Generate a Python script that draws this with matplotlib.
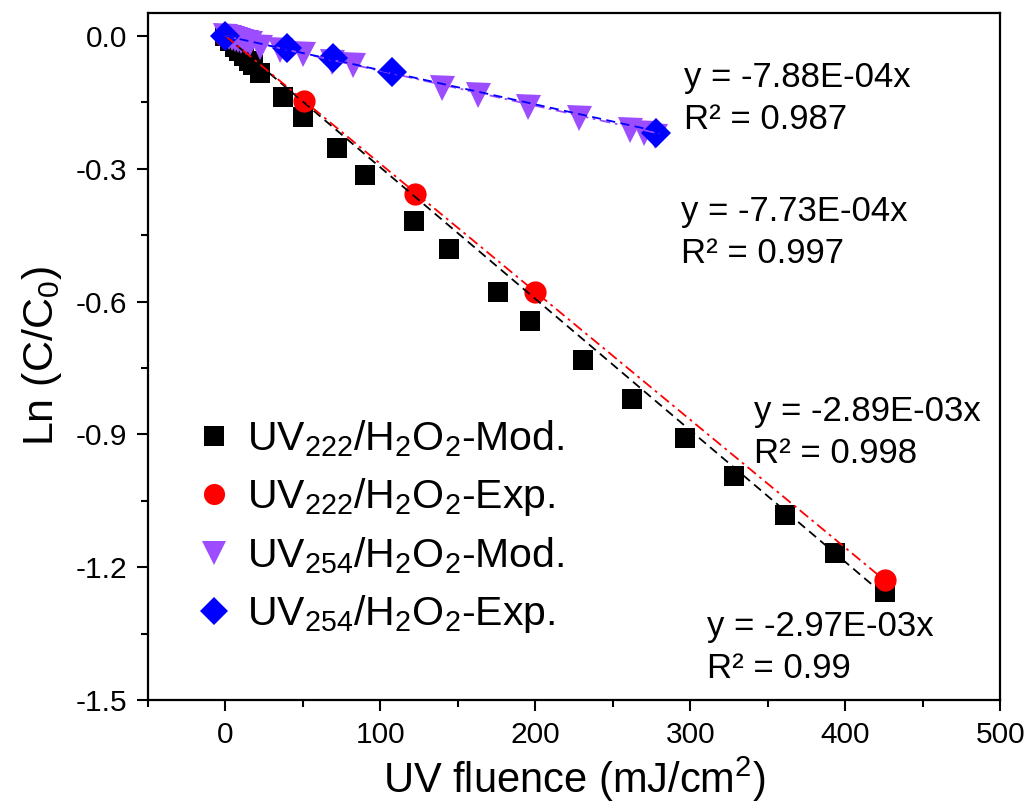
import matplotlib.pyplot as plt
import numpy as np
from matplotlib.ticker import MultipleLocator

plt.rcParams['font.family'] = ['Liberation Sans', 'DejaVu Sans']
plt.rcParams['mathtext.fontset'] = 'custom'
plt.rcParams['mathtext.rm'] = 'Liberation Sans'
plt.rcParams['mathtext.it'] = 'Liberation Sans'
plt.rcParams['mathtext.default'] = 'regular'

# UV222 / H2O2 model
x_222_mod = [0, 3, 6, 9, 12, 15, 18, 22.6, 37.4, 50.3, 72.3, 90.3, 121.9, 144.5, 176.1,
             196.8, 231, 262.6, 296.8, 328.4, 361.3, 393.5, 425.8]
y_222_mod = [0, -0.012, -0.024, -0.035, -0.046, -0.056, -0.066, -0.084, -0.138, -0.183,
             -0.253, -0.314, -0.418, -0.481, -0.578, -0.644, -0.732, -0.820, -0.908,
             -0.994, -1.082, -1.168, -1.256]

# UV222 / H2O2 experiment
x_222_exp = [0, 50.6, 122.6, 200.0, 426.0]
y_222_exp = [0, -0.147, -0.357, -0.578, -1.228]

# UV254 / H2O2 model
x_254_mod = [0, 2, 4, 6, 8, 10, 13, 16, 22, 35, 50, 69, 82, 140, 163, 195, 228, 261, 270, 277]
y_254_mod = [0, -0.003, -0.005, -0.007, -0.009, -0.011, -0.014, -0.017, -0.025, -0.032,
             -0.040, -0.059, -0.066, -0.118, -0.133, -0.160, -0.185, -0.212, -0.220, -0.226]

# UV254 / H2O2 experiment
x_254_exp = [0, 39.6, 69.4, 107.7, 278.0]
y_254_exp = [0, -0.027, -0.050, -0.081, -0.219]

# Linear fits through the origin
slopes = [-2.97e-3, -2.89e-3, -7.88e-4, -7.73e-4]
r2 = ['0.99', '0.998', '0.987', '0.997']
fit_xmax = [428, 428, 280, 280]

labels = [r'UV$_{222}$/H$_2$O$_2$-Mod.', r'UV$_{222}$/H$_2$O$_2$-Exp.',
          r'UV$_{254}$/H$_2$O$_2$-Mod.', r'UV$_{254}$/H$_2$O$_2$-Exp.']

colors = ['black', '#FF0000', '#9C4DFF', '#0000FF']
markers = ['s', 'o', 'v', 'D']
msizes = [15, 16, 18, 15]
fit_styles = [(0, (5, 3)), (0, (6, 2.5, 1.5, 2.5)), (0, (6, 2.5, 1.5, 2.5)), (0, (5, 3))]

fig = plt.figure(figsize=(10.3, 8.07), dpi=100)
ax = fig.add_axes([0.1437, 0.1326, 0.8273, 0.8514])

xs = [x_222_mod, x_222_exp, x_254_mod, x_254_exp]
ys = [y_222_mod, y_222_exp, y_254_mod, y_254_exp]

for x, y, c, m, ms, lab in zip(xs, ys, colors, markers, msizes, labels):
    ax.plot(x, y, linestyle='none', marker=m, ms=ms, color=c, markeredgewidth=0, label=lab)

for k, xm, c, ls in zip(slopes, fit_xmax, colors, fit_styles):
    xf = np.array([0, xm])
    ax.plot(xf, k * xf, color=c, linestyle=ls, linewidth=1.3, zorder=3)

# Fit equations, one block per series
eq_pos = [(311, -1.334), (341, -0.849), (296, -0.093), (294, -0.397)]
for k, r, (tx, ty) in zip(slopes, r2, eq_pos):
    mant, expo = ('%.2E' % k).split('E')
    ax.text(tx, ty, 'y = %sE%sx' % (mant, expo), fontsize=25, ha='left', va='center')
    ax.text(tx, ty - 0.095, 'R² = %s' % r, fontsize=25, ha='left', va='center')

ax.set_xlim(-50, 500)
ax.set_ylim(-1.5, 0.052)
ax.xaxis.set_major_locator(MultipleLocator(100))
ax.xaxis.set_minor_locator(MultipleLocator(50))
ax.yaxis.set_major_locator(MultipleLocator(0.3))
ax.yaxis.set_minor_locator(MultipleLocator(0.15))
ax.yaxis.set_major_formatter(plt.FuncFormatter(lambda v, p: '%.1f' % (v + 0.0 if abs(v) > 1e-9 else 0.0)))

ax.tick_params(which='major', direction='out', length=8, width=1.5, labelsize=21.5, pad=7)
ax.tick_params(which='minor', direction='out', length=5, width=1.5)
for s in ax.spines.values():
    s.set_linewidth(1.6)

ax.set_xlabel('UV fluence (mJ/cm$^2$)', fontsize=30, labelpad=4)
ax.set_ylabel('Ln (C/C$_0$)', fontsize=31, labelpad=8)

ax.legend(loc='upper left', bbox_to_anchor=(0.025, 0.44), frameon=False, fontsize=29.5,
          handletextpad=0.2, labelspacing=0.42, handlelength=1.2, borderpad=0, markerscale=0.95)

plt.savefig('out.png', dpi=100)
